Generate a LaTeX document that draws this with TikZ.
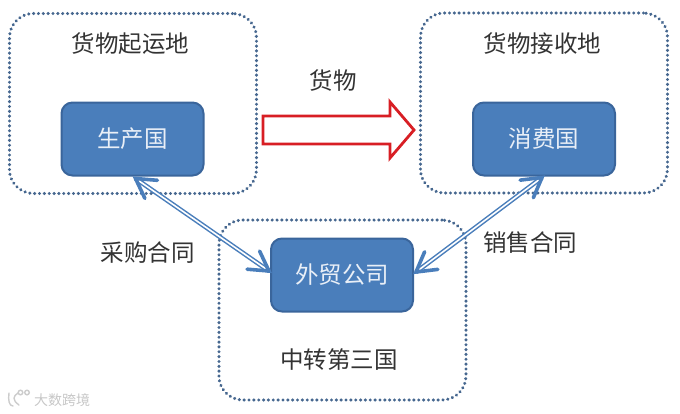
\documentclass[tikz,border=0pt]{standalone}
\usepackage{fontspec}
\setmainfont{Noto Sans CJK SC}
\usetikzlibrary{calc}
\definecolor{bfill}{HTML}{4A7EBB}
\definecolor{bedge}{HTML}{3A659B}
\definecolor{dotc}{HTML}{46678F}
\definecolor{txt}{HTML}{333333}
\definecolor{flowred}{HTML}{D81E24}
\tikzset{
 zone/.style={draw=dotc,line width=3.3pt,line cap=round,dash pattern=on 0.1pt off 4.75pt,rounded corners=24pt,minimum width=247pt,minimum height=180pt,inner sep=0pt},
 party/.style={draw=bedge,line width=2pt,fill=bfill,rounded corners=11pt,minimum width=142pt,minimum height=73pt,inner sep=0pt,text=white!88!bfill,font=\fontsize{23.5}{23.5}\selectfont},
 lab/.style={text=txt,inner sep=0pt,font=\fontsize{23.5}{23.5}\selectfont},
 deal/.style={draw=bfill,line width=1.5pt,double=white,double distance=1.6pt},
 barb/.style={draw=bfill,line width=3.6pt,line cap=round,line join=miter},
 flowline/.style={draw=flowred,line width=2.8pt,line join=miter,fill=white},
 markgrey/.style={draw=black!20,line width=1.4pt,line cap=round},
}
\newcommand{\barbtip}[2]{\draw[barb] ($(#1)!22pt!30:(#2)$) -- (#1) -- ($(#1)!22pt!-30:(#2)$);}
\begin{document}
\begin{tikzpicture}[x=1pt,y=-1pt]
\useasboundingbox (0,0) rectangle (680,413);
\node[zone] (zl) at (133,103.5) {};
\node[zone] (zr) at (544,103) {};
\node[zone] (zb) at (342.5,310) {};
\node[party] (prod) at (132.5,139) {生产国};
\node[party] (cons) at (544,139) {消费国};
\node[party] (ext) at (342,275) {外贸公司};
\coordinate (ps) at ($(prod.south)+(3,2)$);
\coordinate (cs) at ($(cons.south)+(-2,1)$);
\coordinate (ew) at ($(ext.west)+(-1,-4)$);
\coordinate (ee) at ($(ext.east)+(2,-3)$);
\node[lab] (t1) at (130.5,44) {货物起运地};
\node[lab] (t2) at (542.5,44) {货物接收地};
\node[lab] (t3) at (339,360) {中转第三国};
\node[lab] (t4) at (333,81) {货物};
\node[lab] (t5) at (147.5,252.5) {采购合同};
\node[lab] (t6) at (530,243) {销售合同};
\draw[flowline] (263,116) -- (390,116) -- (390,102) -- (414,130) -- (390,158) -- (390,144) -- (263,144) -- cycle;
\draw[deal] (ps) -- (ew);
\draw[deal] (ee) -- (cs);
\barbtip{ps}{ew}
\barbtip{ew}{ps}
\barbtip{ee}{cs}
\barbtip{cs}{ee}
\draw[markgrey] (9,393) .. controls (8,400) and (9,406) .. (13,406);
\draw[markgrey] (18,393) .. controls (13,396) and (12,400) .. (19,405);
\draw[markgrey] (20.5,392.5) circle (2.3pt);
\draw[markgrey] (27,392.5) circle (2.3pt);
\node[inner sep=0pt,anchor=west,text=black!22,font=\fontsize{14}{14}\selectfont] (wm) at (34,400) {大数跨境};
\end{tikzpicture}
\end{document}
